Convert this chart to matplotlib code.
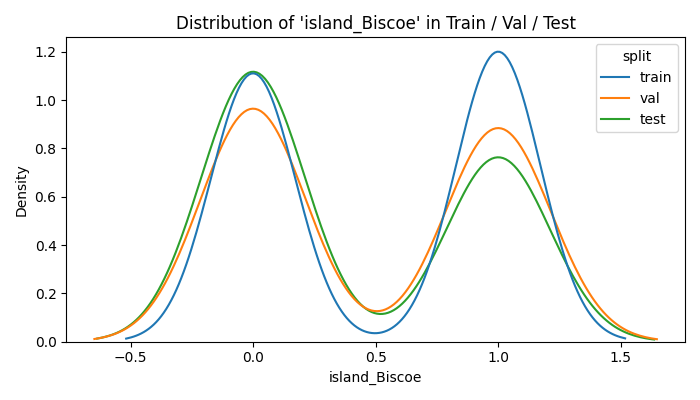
import matplotlib
matplotlib.use("Agg")
import matplotlib.pyplot as plt
import numpy as np
import pandas as pd
import seaborn as sns

# counts of island_Biscoe == 0 / == 1 in each split
splits = ["train", "val", "test"]
zeros = [99, 36, 41]
ones = [107, 33, 28]

vals, labs = [], []
for s, z, o in zip(splits, zeros, ones):
    vals += [0] * z + [1] * o
    labs += [s] * (z + o)
df = pd.DataFrame({"island_Biscoe": np.array(vals, dtype=float), "split": labs})

fig, ax = plt.subplots(figsize=(7, 4), dpi=100)
sns.kdeplot(data=df, x="island_Biscoe", hue="split", hue_order=splits,
            common_norm=False, ax=ax)
ax.set_title("Distribution of 'island_Biscoe' in Train / Val / Test")
ax.set_ylabel("Density")
fig.tight_layout()
fig.savefig("out.png")
